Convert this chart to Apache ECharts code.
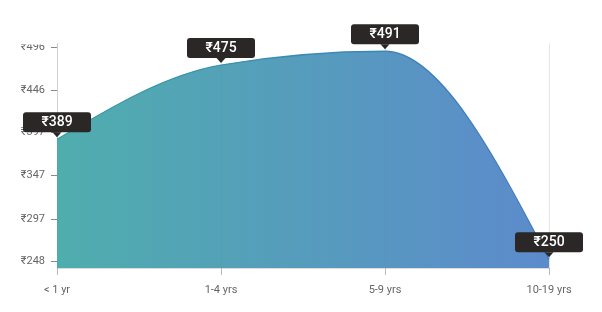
<!DOCTYPE html>
<html><head><meta charset="utf-8">
<script src="https://cdn.jsdelivr.net/npm/echarts@6/dist/echarts.min.js"></script>
<style>html,body{margin:0;padding:0;background:#fff}#c{width:602px;height:312px}</style>
</head><body><div id="c"></div>
<script>
const categories = ['< 1 yr', '1-4 yrs', '5-9 yrs', '10-19 yrs'];
const salaries = [389, 475, 491, 250];
const yTickValues = [248, 297, 347, 397, 446, 496];

const Y_MIN = 240, Y_MAX = 500;
const chart = echarts.init(document.getElementById('c'), null, {renderer: 'canvas'});

// monotone-x cubic path (d3-style) built from coordinates given by the axes
function monotonePath(pts) {
  const n = pts.length;
  const sec = [];
  for (let i = 0; i < n - 1; i++) sec.push((pts[i+1][1] - pts[i][1]) / (pts[i+1][0] - pts[i][0]));
  const t = new Array(n).fill(0);
  for (let i = 1; i < n - 1; i++) {
    const h0 = pts[i][0] - pts[i-1][0], h1 = pts[i+1][0] - pts[i][0];
    const s0 = sec[i-1], s1 = sec[i];
    const p = (s0 * h1 + s1 * h0) / (h0 + h1);
    t[i] = (Math.sign(s0) + Math.sign(s1)) * Math.min(Math.abs(s0), Math.abs(s1), 0.5 * Math.abs(p)) || 0;
  }
  t[0] = (3 * sec[0] - t[1]) / 2;
  t[n-1] = (3 * sec[n-2] - t[n-2]) / 2;
  let d = 'M' + pts[0][0] + ' ' + pts[0][1];
  for (let i = 0; i < n - 1; i++) {
    const dx = (pts[i+1][0] - pts[i][0]) / 3;
    d += ' C' + (pts[i][0] + dx) + ' ' + (pts[i][1] + dx * t[i]) + ' ' +
         (pts[i+1][0] - dx) + ' ' + (pts[i+1][1] - dx * t[i+1]) + ' ' +
         pts[i+1][0] + ' ' + pts[i+1][1];
  }
  return d;
}

function renderArea(params, api) {
  if (params.dataIndex !== 0) return null;
  const pts = salaries.map((v, i) => api.coord([i, v]));
  const curve = monotonePath(pts);
  const b0 = api.coord([0, Y_MIN]), b1 = api.coord([salaries.length - 1, Y_MIN]);
  const x0 = b0[0], x1 = b1[0];
  const fill = new echarts.graphic.LinearGradient(x0, 0, x1, 0, [
    {offset: 0, color: 'rgba(66,167,167,0.93)'},
    {offset: 1, color: 'rgba(80,130,200,0.93)'}
  ], true);
  const stroke = new echarts.graphic.LinearGradient(x0, 0, x1, 0, [
    {offset: 0, color: '#3a9ea3'},
    {offset: 1, color: '#3d78c2'}
  ], true);
  return {
    type: 'group',
    children: [
      {type: 'path', shape: {pathData: curve + ' L' + x1 + ' ' + b1[1] + ' L' + x0 + ' ' + b0[1] + ' Z'},
       style: {fill: fill, stroke: null}},
      {type: 'path', shape: {pathData: curve}, style: {fill: null, stroke: stroke, lineWidth: 1.3}}
    ]
  };
}

chart.setOption({
  animation: false,
  grid: {left: 57, right: 53, top: 43.5, bottom: 44},
  xAxis: {
    type: 'category', data: categories, boundaryGap: false,
    axisLine: {show: true, lineStyle: {color: '#dcdcdc'}},
    axisTick: {show: true, alignWithLabel: true, length: 7, lineStyle: {color: '#b8b8b8'}},
    axisLabel: {color: '#666', fontSize: 11, fontFamily: 'Roboto', margin: 17},
    splitLine: {show: true, lineStyle: {color: '#e6e6e6'}}
  },
  yAxis: {
    type: 'value', min: Y_MIN, max: Y_MAX,
    axisLine: {show: true, lineStyle: {color: '#cfcfcf'}},
    axisTick: {show: true, length: 6, customValues: yTickValues, lineStyle: {color: '#888'}},
    axisLabel: {customValues: yTickValues, color: '#666', fontSize: 11, fontFamily: 'Roboto', margin: 12,
      formatter: v => '₹' + v},
    splitLine: {show: false}
  },
  series: [{
    type: 'custom', renderItem: renderArea, z: 1,
    data: salaries.map((v, i) => [i, v]), encode: {x: 0, y: 1}, silent: true
  }, {
    type: 'scatter', data: salaries, symbol: 'rect', symbolSize: [1, 1], z: 6,
    itemStyle: {color: 'rgba(0,0,0,0)', opacity: 1}, silent: true,
    label: {
      show: true, position: 'top', distance: 6.5,
      formatter: p => '₹' + p.value,
      color: '#fff', fontSize: 14, fontFamily: 'Roboto', fontWeight: 500,
      backgroundColor: '#2a2726', borderRadius: 3,
      padding: [3, 0, 2, 0], width: 68, height: 15, align: 'center', lineHeight: 15
    }
  }, {
    type: 'scatter', data: salaries, symbol: 'triangle', symbolRotate: 180,
    symbolSize: [9, 5], symbolOffset: [0, -4.5], z: 5,
    itemStyle: {color: '#2a2726', opacity: 1}, silent: true
  }],
  graphic: [{type: 'rect', shape: {x: 0, y: 0, width: 50, height: 44.5}, style: {fill: '#fff'}, z: 100}]
});
</script></body></html>
